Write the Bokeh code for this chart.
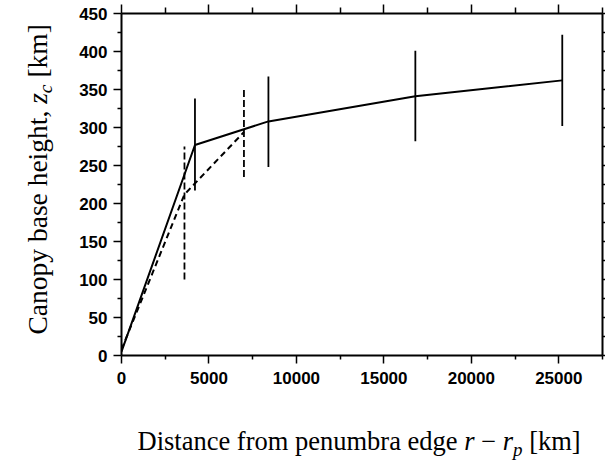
from math import pi
from bokeh.plotting import figure
from bokeh.models import Range1d, FixedTicker, LinearAxis, ColumnDataSource, CustomJSTickFormatter
from bokeh.layouts import row, column
from bokeh.core.properties import value
from bokeh.embed import file_html
from bokeh.resources import INLINE

# ---- data ----
solid_x = [0, 4200, 8400, 16800, 25200]
solid_y = [5, 277, 308, 341, 362]
solid_err_x = [4200, 8400, 16800, 25200]
solid_err_lo = [217, 248, 282, 302]
solid_err_hi = [338, 367, 401, 422]

dashed_x = [0, 3600, 7000]
dashed_y = [8, 212, 294]
dashed_err_x = [3600, 7000]
dashed_err_lo = [100, 235]
dashed_err_hi = [275, 350]

x_major = [0, 5000, 10000, 15000, 20000, 25000]
x_minor = [2500, 7500, 12500, 17500, 22500, 27500]
y_major = [0, 50, 100, 150, 200, 250, 300, 350, 400, 450]
y_minor = [25, 75, 125, 175, 225, 275, 325, 375, 425]

X_MAX, Y_MAX = 27500, 450

x_title_parts = ["Distance from penumbra edge", "r", "\u2212", "r", "p", "[km]"]
y_title_parts = ["Canopy base height,", "z", "c", "[km]"]

# ---- layout sizes (px) ----
TOTAL_W, TOTAL_H = 605, 468
LW = 70
MW = TOTAL_W - LW
MH = 390
BH = TOTAL_H - MH
ML, MR = 51, 3          # main plot borders (frame: page x 121 .. 602)

p = figure(width=MW, height=MH, x_range=Range1d(0, X_MAX), y_range=Range1d(0, Y_MAX),
           output_backend="svg", toolbar_location=None,
           min_border_left=ML, min_border_right=MR, min_border_top=13,
           min_border_bottom=35, background_fill_color="white",
           border_fill_color="white")
p.outline_line_color = None
p.grid.visible = False

tick_font = "Liberation Sans"
blank = CustomJSTickFormatter(code="return ''")


def style_axis(ax, major_out, minor_out, labels=True):
    ax.axis_line_width = 2
    ax.axis_line_color = "black"
    ax.major_tick_in = 0
    ax.minor_tick_in = 0
    ax.major_tick_out = major_out
    ax.minor_tick_out = minor_out
    ax.major_tick_line_width = 1.5
    ax.minor_tick_line_width = 1.5
    if labels:
        ax.major_label_text_font = tick_font
        ax.major_label_text_font_size = "17px"
        ax.major_label_text_font_style = "bold"
        ax.major_label_text_color = "black"
    else:
        ax.formatter = blank
        ax.major_label_standoff = 0


p.xaxis.ticker = FixedTicker(ticks=x_major, minor_ticks=x_minor)
p.yaxis.ticker = FixedTicker(ticks=y_major, minor_ticks=y_minor)
style_axis(p.xaxis[0], 8, 4)
style_axis(p.yaxis[0], 8, 4)
p.xaxis.major_label_standoff = 8
p.yaxis.major_label_standoff = 6

top = LinearAxis(ticker=FixedTicker(ticks=x_major, minor_ticks=x_minor))
style_axis(top, 9, 6, labels=False)
p.add_layout(top, "above")
right = LinearAxis(ticker=FixedTicker(ticks=y_major, minor_ticks=y_minor))
style_axis(right, 3, 3, labels=False)
p.add_layout(right, "right")

# ---- data marks ----
p.line(solid_x, solid_y, line_color="black", line_width=2)
p.segment(x0=solid_err_x, y0=solid_err_lo, x1=solid_err_x, y1=solid_err_hi,
          line_color="black", line_width=1.8)
p.line(dashed_x, dashed_y, line_color="black", line_width=2, line_dash="6 4")
p.segment(x0=dashed_err_x, y0=dashed_err_lo, x1=dashed_err_x, y1=dashed_err_hi,
          line_color="black", line_width=1.8, line_dash="7 3")

serif = "Liberation Serif"
BASE_SHIFT = 0.38   # text glyph draws its baseline this many em past the anchor


def strip(w, h, xr, yr, bl=0, br=0):
    f = figure(width=w, height=h, x_range=Range1d(*xr), y_range=Range1d(*yr),
               output_backend="svg", toolbar_location=None,
               min_border_left=bl, min_border_right=br, min_border_top=0, min_border_bottom=0,
               x_axis_type=None, y_axis_type=None, background_fill_color="white",
               border_fill_color="white")
    f.outline_line_color = None
    f.grid.visible = False
    return f


# Times-metric advance widths (em)
EM = {"Distance from penumbra edge": 12.080, "r": 0.389, "\u2212": 0.564,
      "p": 0.5, "[km]": 1.944, "Canopy base height,": 8.138, "z": 0.389, "c": 0.444}

# ---- x title (bottom strip, ranges in page pixels) ----
bot = strip(MW, BH, (LW + ML, TOTAL_W - MR), (TOTAL_H, MH), bl=ML, br=MR)
xs, xsub = 26.5, 19
x_styles = ["normal", "italic", "normal", "italic", "italic", "normal"]
x_sizes = [xs, xs, xs, xs, xsub, xs]
x_drop = [0, 0, 0, 0, 5, 0]
x_gap = [0.25, 0.25, 0.25, 0, 0.25, 0]
cx = 137.0
base = 451.0
xx, yy = [], []
for t, s, d, g in zip(x_title_parts, x_sizes, x_drop, x_gap):
    xx.append(cx)
    yy.append(base + d - BASE_SHIFT * s)
    cx += EM[t] * s + g * xs
bot.text(x="x", y="y", text="text",
         source=ColumnDataSource(dict(x=xx, y=yy, text=x_title_parts,
                                      style=x_styles, size=[f"{s}px" for s in x_sizes])),
         text_font=value(serif), text_font_style="style", text_font_size="size",
         text_align="left", text_baseline="alphabetic", text_color="black")

# ---- y title (left strip, rotated, ranges in page pixels) ----
left = strip(LW, TOTAL_H, (0, LW), (TOTAL_H, 0))
ys, ysub = 27.5, 19.5
y_styles = ["normal", "italic", "italic", "normal"]
y_sizes = [ys, ys, ysub, ys]
y_shift = [0, 0, 5, 0]
y_gap = [0.25, 0, 0.25, 0]
cy = 334.0
bx = 47.0
lx, ly = [], []
for t, s, d, g in zip(y_title_parts, y_sizes, y_shift, y_gap):
    lx.append(bx + d - BASE_SHIFT * s)
    ly.append(cy)
    cy -= EM[t] * s + g * ys
left.text(x="x", y="y", text="text",
          source=ColumnDataSource(dict(x=lx, y=ly, text=y_title_parts,
                                       style=y_styles, size=[f"{s}px" for s in y_sizes])),
          text_font=value(serif), text_font_style="style", text_font_size="size",
          angle=pi / 2, text_align="left", text_baseline="alphabetic", text_color="black")

layout = row(left, column(p, bot))
open("out.html", "w").write(file_html(layout, INLINE))
